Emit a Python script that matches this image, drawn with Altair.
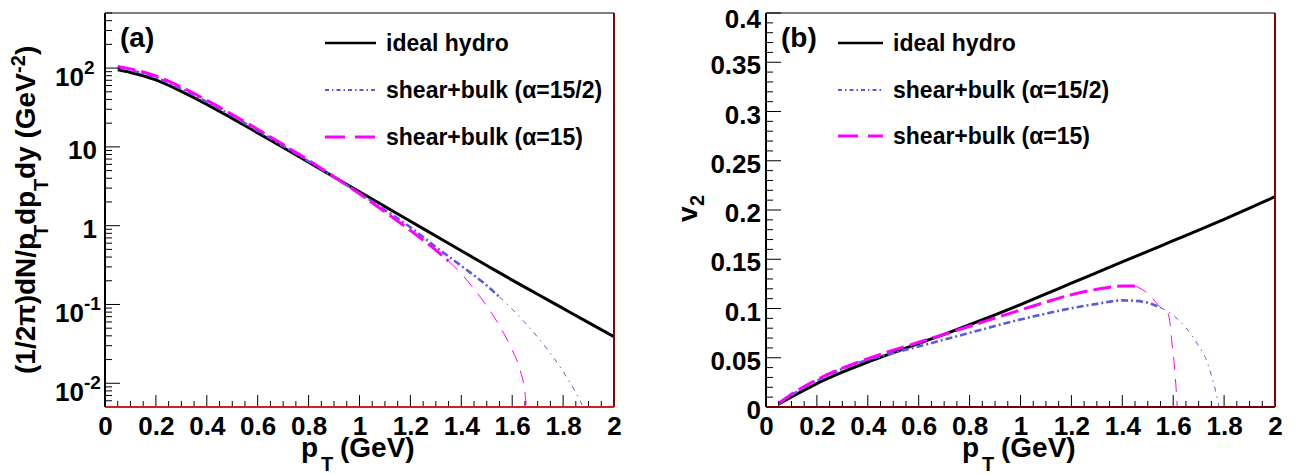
import altair as alt
import pandas as pd

FONT = "Liberation Sans"
W, H = 509, 394

# ---------------- data: panel (a) spectra ----------------
pt_a_ideal = [0.05, 0.1, 0.2, 0.3, 0.4, 0.5, 0.6, 0.7, 0.8, 0.9, 1.0, 1.1, 1.2, 1.3, 1.4, 1.5, 1.6, 1.7, 1.8, 1.9, 2.0]
spec_ideal = [95.1, 88.1, 70.8, 50.7, 34.7, 23.0, 15.07, 9.82, 6.38, 4.14, 2.69, 1.75, 1.14, 0.74, 0.481, 0.313, 0.204, 0.135, 0.0891, 0.0589, 0.0391]

pt_a_half = [0.05, 0.1, 0.2, 0.3, 0.4, 0.5, 0.6, 0.7, 0.8, 0.9, 1.0, 1.1, 1.2, 1.3, 1.4, 1.5, 1.55, 1.6, 1.65, 1.7, 1.75, 1.8, 1.85, 1.88, 1.9]
spec_half = [100.9, 94.0, 75.9, 54.3, 37.2, 24.7, 16.0, 10.3, 6.56, 4.14, 2.58, 1.585, 0.955, 0.537, 0.309, 0.174, 0.1245, 0.0871, 0.0589, 0.0385, 0.0240, 0.0141, 0.00759, 0.0049, 0.00339]

pt_a_full = [0.05, 0.1, 0.2, 0.3, 0.4, 0.5, 0.6, 0.7, 0.8, 0.9, 1.0, 1.1, 1.2, 1.3, 1.35, 1.4, 1.45, 1.5, 1.55, 1.6, 1.63, 1.65, 1.66]
spec_full = [105, 97.7, 79.4, 57.3, 39.1, 25.8, 16.7, 10.7, 6.76, 4.19, 2.54, 1.50, 0.871, 0.490, 0.355, 0.245, 0.158, 0.0955, 0.0537, 0.0263, 0.0151, 0.0076, 0.0035]

split_a_half = 1.55
split_a_full = 1.35

# ---------------- data: panel (b) v2 ----------------
pt_b_ideal = [0.05, 0.1, 0.2, 0.3, 0.4, 0.5, 0.6, 0.7, 0.8, 0.9, 1.0, 1.1, 1.2, 1.3, 1.4, 1.5, 1.6, 1.7, 1.8, 1.9, 2.0]
v2_ideal = [0.003, 0.0102, 0.0238, 0.0353, 0.0457, 0.0552, 0.0645, 0.0738, 0.0835, 0.0935, 0.104, 0.1148, 0.1257, 0.1365, 0.1473, 0.158, 0.1688, 0.1795, 0.1905, 0.202, 0.2135]

pt_b_half = [0.05, 0.1, 0.2, 0.3, 0.4, 0.5, 0.6, 0.7, 0.8, 0.9, 1.0, 1.1, 1.2, 1.3, 1.4, 1.45, 1.5, 1.55, 1.6, 1.65, 1.7, 1.73, 1.75, 1.765, 1.78]
v2_half = [0.0035, 0.012, 0.0265, 0.0388, 0.0478, 0.0548, 0.0615, 0.0684, 0.0753, 0.0822, 0.0888, 0.0948, 0.1003, 0.1047, 0.1082, 0.1078, 0.1058, 0.101, 0.093, 0.0805, 0.062, 0.048, 0.032, 0.018, 0.0]

pt_b_full = [0.05, 0.1, 0.2, 0.3, 0.4, 0.5, 0.6, 0.7, 0.8, 0.9, 1.0, 1.1, 1.2, 1.3, 1.4, 1.45, 1.48, 1.51, 1.53, 1.55, 1.572, 1.586, 1.595, 1.606, 1.616]
v2_full = [0.0038, 0.013, 0.0278, 0.0395, 0.049, 0.0577, 0.0657, 0.0738, 0.082, 0.0903, 0.0985, 0.1066, 0.114, 0.1195, 0.1228, 0.1228, 0.119, 0.113, 0.107, 0.101, 0.0985, 0.088, 0.065, 0.038, 0.0]

split_b_half = 1.55
split_b_full = 1.45

# ---------------- axes: ticks and labels ----------------
x_labels = [0, 0.2, 0.4, 0.6, 0.8, 1, 1.2, 1.4, 1.6, 1.8, 2]
x_minor = [round(0.05 * i, 2) for i in range(41) if i % 4 != 0]

ya_major = [0.01, 0.1, 1, 10, 100]
ya_minor = [m * 10.0 ** k for k in range(-3, 3) for m in range(2, 10) if 0.005 <= m * 10.0 ** k <= 500]
ya_plain_vals = [10, 1]
ya_plain_text = ["10", "1"]
ya_exp_vals = [100, 0.1, 0.01]
ya_exp_base = ["10", "10", "10"]
ya_exp_text = ["2", "-1", "-2"]

yb_major = [0, 0.05, 0.1, 0.15, 0.2, 0.25, 0.3, 0.35, 0.4]
yb_text = ["0", "0.05", "0.1", "0.15", "0.2", "0.25", "0.3", "0.35", "0.4"]
yb_minor = [round(0.01 * i, 2) for i in range(41) if i % 5 != 0]

legend_labels = ["ideal hydro", "shear+bulk (\u03b1=15/2)", "shear+bulk (\u03b1=15)"]

BLACK = "#000000"
BLUE = "#5a5ade"
MAGENTA = "#ff00ff"

xscale = alt.Scale(domain=[0, 2], nice=False, zero=False)
xaxis = alt.Axis(values=x_labels, format="~g", title=None, grid=False, domain=False,
                 ticks=False, tickSize=0, labelFont=FONT, labelFontSize=26,
                 labelFontWeight="bold", labelColor="black", labelPadding=6,
                 labelOverlap=False, labelFlush=False)


def seg(ps, vs, lo, hi):
    rows = [(p, v) for p, v in zip(ps, vs) if lo <= p <= hi]
    return pd.DataFrame({"p": [r[0] for r in rows], "v": [r[1] for r in rows]})


def one():
    return pd.DataFrame({"k": [0]})


def line(df, yscale, color, width, dash=None):
    kw = dict(color=color, strokeWidth=width, clip=True, interpolate="monotone")
    if dash:
        kw["strokeDash"] = dash
    return alt.Chart(df).mark_line(**kw).encode(
        x=alt.X("p:Q", scale=xscale, axis=xaxis),
        y=alt.Y("v:Q", scale=yscale, axis=None),
    )


def txt(s, x, y, size, align="left", baseline="alphabetic", angle=0):
    kw = dict(text=s, font=FONT, fontSize=size, fontWeight="bold", color="black",
              align=align, baseline=baseline)
    if angle:
        kw["angle"] = angle
    return alt.Chart(one()).mark_text(**kw).encode(x=alt.value(x), y=alt.value(y))


def hrule(x1, x2, y, color, width, dash=None):
    kw = dict(color=color, strokeWidth=width)
    if dash:
        kw["strokeDash"] = dash
    return alt.Chart(one()).mark_rule(**kw).encode(x=alt.value(x1), x2=alt.value(x2), y=alt.value(y))


def vrule(x, y1, y2, color, width):
    return alt.Chart(one()).mark_rule(color=color, strokeWidth=width).encode(
        x=alt.value(x), y=alt.value(y1), y2=alt.value(y2))


def xticks():
    maj = alt.Chart(pd.DataFrame({"p": x_labels})).mark_rule(color="black", strokeWidth=1).encode(
        x=alt.X("p:Q", scale=xscale, axis=xaxis), y=alt.value(H), y2=alt.value(H - 12))
    mnr = alt.Chart(pd.DataFrame({"p": x_minor})).mark_rule(color="black", strokeWidth=1).encode(
        x=alt.X("p:Q", scale=xscale, axis=xaxis), y=alt.value(H), y2=alt.value(H - 6))
    return [maj, mnr]


def yticks(major, minor, yscale, lmaj, lmin):
    maj = alt.Chart(pd.DataFrame({"v": major})).mark_rule(color="black", strokeWidth=1).encode(
        y=alt.Y("v:Q", scale=yscale, axis=None), x=alt.value(0), x2=alt.value(lmaj))
    mnr = alt.Chart(pd.DataFrame({"v": minor})).mark_rule(color="black", strokeWidth=1).encode(
        y=alt.Y("v:Q", scale=yscale, axis=None), x=alt.value(0), x2=alt.value(lmin))
    return [maj, mnr]


def frame(bottom_color):
    return [
        hrule(0, W, 0, "black", 1),
        vrule(W, 0, H, "#8b0000", 2),
        vrule(0, 0, H, "black", 2),
        hrule(0, W, H, bottom_color, 2),
    ]


def xtitle():
    return [txt("p", 196, 444, 28), txt("T", 216, 458, 20), txt("(GeV)", 235, 444, 28)]


def legend(lx1, lx2, tx, rows):
    return [
        hrule(lx1, lx2, rows[0], BLACK, 2.5),
        hrule(lx1, lx2, rows[1], BLUE, 2, [4, 3, 1.5, 3]),
        hrule(lx1, lx2, rows[2], MAGENTA, 3, [20, 10]),
        txt(legend_labels[0], tx, rows[0] + 1, 23, baseline="middle"),
        txt(legend_labels[1], tx, rows[1] + 1, 23, baseline="middle"),
        txt(legend_labels[2], tx, rows[2] + 1, 23, baseline="middle"),
    ]


# ---------------- panel (a) ----------------
ys_a = alt.Scale(type="log", domain=[0.005, 500], nice=False)

layers_a = [
    line(seg(pt_a_ideal, spec_ideal, 0, 9), ys_a, BLACK, 3),
    line(seg(pt_a_half, spec_half, 0, split_a_half), ys_a, BLUE, 2.6, [7, 3, 2, 3]),
    line(seg(pt_a_half, spec_half, split_a_half, 9), ys_a, BLUE, 1, [5, 5, 1.5, 5]),
    line(seg(pt_a_full, spec_full, 0, split_a_full), ys_a, MAGENTA, 3, [18, 6]),
    line(seg(pt_a_full, spec_full, split_a_full, 9), ys_a, MAGENTA, 1, [13, 9]),
]
layers_a += xticks()
layers_a += yticks(ya_major, ya_minor, ys_a, 15, 7)
layers_a += frame("#d42020")

lab_plain = alt.Chart(pd.DataFrame({"v": ya_plain_vals, "t": ya_plain_text})).mark_text(
    font=FONT, fontSize=26, fontWeight="bold", color="black", align="right", baseline="middle", dy=4
).encode(y=alt.Y("v:Q", scale=ys_a, axis=None), x=alt.value(-8), text="t:N")
lab_base = alt.Chart(pd.DataFrame({"v": ya_exp_vals, "t": ya_exp_base})).mark_text(
    font=FONT, fontSize=26, fontWeight="bold", color="black", align="right", baseline="middle", dy=10
).encode(y=alt.Y("v:Q", scale=ys_a, axis=None), x=alt.value(-21), text="t:N")
lab_exp = alt.Chart(pd.DataFrame({"v": ya_exp_vals, "t": ya_exp_text})).mark_text(
    font=FONT, fontSize=19, fontWeight="bold", color="black", align="left", baseline="middle", dy=0
).encode(y=alt.Y("v:Q", scale=ys_a, axis=None), x=alt.value(-21), text="t:N")
layers_a += [lab_plain, lab_base, lab_exp]

layers_a += xtitle()
layers_a += [
    txt("(1/2\u03c0)dN/p", -70, 361, 28, angle=270),
    txt("T", -57, 224, 20, angle=270),
    txt("dp", -70, 212, 28, angle=270),
    txt("T", -57, 178, 20, angle=270),
    txt("dy (GeV", -70, 166, 28, angle=270),
    txt("-2", -80, 60, 20, angle=270),
    txt(")", -70, 42, 28, angle=270),
]
layers_a += [txt("(a)", 15, 26, 28, baseline="middle")]
layers_a += legend(220, 271, 281, [30, 77, 124])

panel_a = alt.layer(*layers_a).properties(width=W, height=H)

# ---------------- panel (b) ----------------
ys_b = alt.Scale(domain=[0, 0.4], nice=False, zero=False)

layers_b = [
    line(seg(pt_b_ideal, v2_ideal, 0, 9), ys_b, BLACK, 3),
    line(seg(pt_b_half, v2_half, 0, split_b_half), ys_b, BLUE, 2.6, [7, 3, 2, 3]),
    line(seg(pt_b_half, v2_half, split_b_half, 9), ys_b, BLUE, 1, [5, 5, 1.5, 5]),
    line(seg(pt_b_full, v2_full, 0, split_b_full), ys_b, MAGENTA, 3, [18, 6]),
    line(seg(pt_b_full, v2_full, split_b_full, 9), ys_b, MAGENTA, 1, [13, 9]),
]
layers_b += xticks()
layers_b += yticks(yb_major, yb_minor, ys_b, 15, 7)
layers_b += frame("#700000")

yb_df = pd.DataFrame({"v": yb_major, "t": yb_text})
lab_b = alt.Chart(yb_df[yb_df["v"] < 0.39]).mark_text(
    font=FONT, fontSize=26, fontWeight="bold", color="black", align="right", baseline="middle", dy=4
).encode(y=alt.Y("v:Q", scale=ys_b, axis=None), x=alt.value(-5), text="t:N")
lab_b_top = alt.Chart(yb_df[yb_df["v"] > 0.39]).mark_text(
    font=FONT, fontSize=26, fontWeight="bold", color="black", align="right", baseline="middle", dy=7
).encode(y=alt.Y("v:Q", scale=ys_b, axis=None), x=alt.value(-5), text="t:N")
layers_b += [lab_b, lab_b_top]

layers_b += xtitle()
layers_b += [
    txt("v", -69, 209, 28, angle=270),
    txt("2", -62, 193, 20, angle=270),
]
layers_b += [txt("(b)", 15, 26, 28, baseline="middle")]
layers_b += legend(72, 117, 127, [30, 77, 123])

panel_b = alt.layer(*layers_b).properties(width=W, height=H)

chart = alt.hconcat(panel_a, panel_b, spacing=152, bounds="flush").properties(
    padding={"left": 1, "top": -1, "right": 5, "bottom": 0},
    background="white",
).configure_view(stroke=None)

chart.save("out.html", embed_options={"renderer": "svg", "actions": False})
